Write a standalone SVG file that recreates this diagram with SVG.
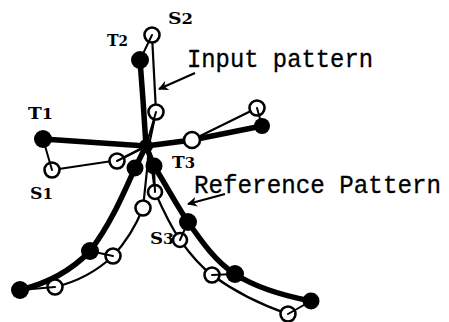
<svg xmlns="http://www.w3.org/2000/svg" width="449" height="322" viewBox="0 0 449 322">
  <style>
    .ref { fill: none; stroke: #000; stroke-width: 5.5; stroke-linecap: round; stroke-linejoin: round; }
    .inp { fill: none; stroke: #000; stroke-width: 2.2; stroke-linecap: round; stroke-linejoin: round; }
    .link { fill: none; stroke: #000; stroke-width: 2; stroke-linecap: round; }
    .tnode { fill: #000; }
    .snode { fill: #fff; stroke: #000; stroke-width: 2.6; }
    .lbl { font-family: "DejaVu Serif", "Liberation Serif", serif; font-weight: bold; font-size: 16px; fill: #000; }
    .cap { font-family: "Liberation Mono", "DejaVu Sans Mono", monospace; font-size: 26px; fill: #000; stroke: #000; stroke-width: 0.3; }
    .arrow { fill: none; stroke: #000; stroke-width: 2.2; }
  </style>
  <defs>
    <marker id="head" viewBox="0 0 10 10" refX="9" refY="5" markerWidth="4.5" markerHeight="4.5" orient="auto">
      <path d="M0,0 L10,5 L0,10 L3,5 z" fill="#000"/>
    </marker>
  </defs>
  <rect width="449" height="322" fill="#fff"/>

  <!-- connectors: reference skeleton (thick) -->
  <g id="connectors">
    <g id="reference-lines">
      <path class="ref" d="M140,60 L143,100 L146,146"/>
      <path class="ref" d="M43,139 L146,146 L192,140 L262,126"/>
      <path class="ref" d="M146,146 L135,168 C122,197 110,225 90,251 C70,272 45,284 20,290"/>
      <path class="ref" d="M146,146 L154,166 C166,185 176,204 188,222 C202,242 216,262 235,274 C258,289 285,296 311,301"/>
    </g>
    <!-- input skeleton (thin) -->
    <g id="input-lines">
      <path class="inp" d="M152,35 L156,112 L149,145"/>
      <path class="inp" d="M52,170 L119,160 L149,145"/>
      <path class="inp" d="M149,145 L192,140 L257,108"/>
      <path class="inp" d="M149,145 L147,170 L143,208 C135,228 126,242 113,256 C96,272 76,282 55,287"/>
      <path class="inp" d="M149,145 L155,192 C162,208 170,225 180,240 C190,254 200,266 212,275 C235,292 262,305 288,314"/>
    </g>
    <!-- arrows to the captions -->
    <line class="arrow" x1="195" y1="73" x2="159" y2="89" marker-end="url(#head)"/>
    <line class="arrow" x1="225" y1="194" x2="188" y2="204" marker-end="url(#head)"/>
  </g>

  <!-- reference nodes -->
  <g id="t1"><circle class="tnode" cx="43" cy="139" r="9"/></g>
  <g id="t2"><circle class="tnode" cx="140" cy="60" r="9"/></g>
  <g id="t-right"><circle class="tnode" cx="262" cy="126" r="8"/></g>
  <g id="t-left-a"><circle class="tnode" cx="135" cy="168" r="8.5"/></g>
  <g id="t3"><circle class="tnode" cx="154" cy="166" r="8.5"/></g>
  <g id="t-left-b"><circle class="tnode" cx="90" cy="251" r="9"/></g>
  <g id="t-left-c"><circle class="tnode" cx="20" cy="290" r="9"/></g>
  <g id="t-right-a"><circle class="tnode" cx="188" cy="222" r="9"/></g>
  <g id="t-right-b"><circle class="tnode" cx="235" cy="274" r="9"/></g>
  <g id="t-right-c"><circle class="tnode" cx="311" cy="301" r="8.5"/></g>
  <g id="t-center"><circle class="tnode" cx="146" cy="146" r="7"/></g>

  <!-- input nodes -->
  <g id="s2"><circle class="snode" cx="152" cy="35" r="7.5"/></g>
  <g id="s-upper"><circle class="snode" cx="156" cy="112" r="7.5"/></g>
  <g id="s1"><circle class="snode" cx="52" cy="170" r="7.5"/></g>
  <g id="s-left"><circle class="snode" cx="117" cy="161" r="7.5"/></g>
  <g id="s-right"><circle class="snode" cx="192" cy="140" r="8"/></g>
  <g id="s-right-end"><circle class="snode" cx="257" cy="108" r="7.5"/></g>
  <g id="s-low-a"><circle class="snode" cx="155" cy="192" r="7"/></g>
  <g id="s-left-a"><circle class="snode" cx="143" cy="208" r="7.5"/></g>
  <g id="s-left-b"><circle class="snode" cx="113" cy="256" r="7.5"/></g>
  <g id="s-left-c"><circle class="snode" cx="55" cy="287" r="7.5"/></g>
  <g id="s3"><circle class="snode" cx="180" cy="240" r="7"/></g>
  <g id="s-right-b"><circle class="snode" cx="212" cy="275" r="7.5"/></g>
  <g id="s-right-c"><circle class="snode" cx="288" cy="314" r="7.5"/></g>

  <!-- correspondence ticks from input nodes to reference nodes -->
  <g id="links">
    <line class="link" x1="152" y1="35" x2="140" y2="60"/>
    <line class="link" x1="156" y1="112" x2="146" y2="146"/>
    <line class="link" x1="52" y1="170" x2="43" y2="139"/>
    <line class="link" x1="257" y1="108" x2="262" y2="126"/>
    <line class="link" x1="155" y1="192" x2="154" y2="166"/>
    <line class="link" x1="113" y1="256" x2="90" y2="251"/>
    <line class="link" x1="55" y1="287" x2="20" y2="290"/>
    <line class="link" x1="180" y1="240" x2="188" y2="222"/>
    <line class="link" x1="212" y1="275" x2="235" y2="274"/>
    <line class="link" x1="288" y1="314" x2="311" y2="301"/>
    <line class="link" x1="117" y1="161" x2="146" y2="146"/>
  </g>

  <!-- labels -->
  <g id="labels">
    <text class="lbl" x="28" y="119" textLength="25" lengthAdjust="spacingAndGlyphs">T<tspan font-size="14">1</tspan></text>
    <text class="lbl" x="107" y="46" textLength="21" lengthAdjust="spacingAndGlyphs">T<tspan font-size="14">2</tspan></text>
    <text class="lbl" x="168" y="24" textLength="25" lengthAdjust="spacingAndGlyphs">S<tspan font-size="14">2</tspan></text>
    <text class="lbl" x="172" y="168" textLength="23" lengthAdjust="spacingAndGlyphs">T<tspan font-size="14">3</tspan></text>
    <text class="lbl" x="30" y="199" textLength="23" lengthAdjust="spacingAndGlyphs">S<tspan font-size="14">1</tspan></text>
    <text class="lbl" x="150" y="244" textLength="24" lengthAdjust="spacingAndGlyphs">S<tspan font-size="14">3</tspan></text>
    <text class="cap" x="187" y="67" textLength="186" lengthAdjust="spacingAndGlyphs">Input pattern</text>
    <text class="cap" x="194" y="193" textLength="247" lengthAdjust="spacingAndGlyphs">Reference Pattern</text>
  </g>
</svg>
